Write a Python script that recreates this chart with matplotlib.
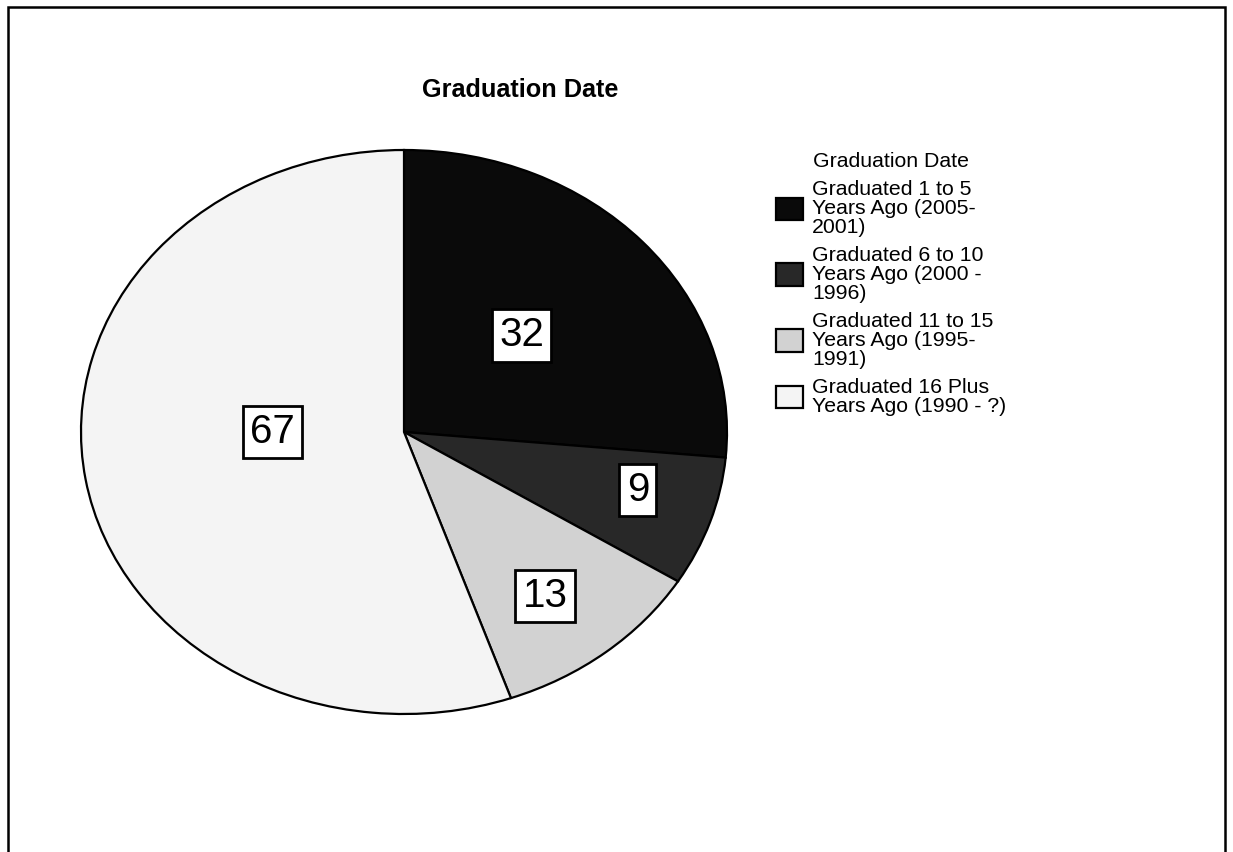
import numpy as np
import matplotlib.pyplot as plt
from matplotlib.patches import Rectangle

plt.rcParams["font.family"] = ["Liberation Sans", "DejaVu Sans"]

categories = [
    "Graduated 1 to 5\nYears Ago (2005-\n2001)",
    "Graduated 6 to 10\nYears Ago (2000 -\n1996)",
    "Graduated 11 to 15\nYears Ago (1995-\n1991)",
    "Graduated 16 Plus\nYears Ago (1990 - ?)",
]
counts = [32, 9, 13, 67]

colors = ["#0a0a0a", "#282828", "#d2d2d2", "#f4f4f4"]
# value boxes: distance from centre (fraction of radius) and angle in degrees
label_r = [0.5, 0.753, 0.727, 0.406]
label_angle = [43.2, -15.9, -53.1, 180.0]

figure = plt.figure(figsize=(12.33, 8.52), dpi=100)
W, H = 1233, 852

# the pie is an ellipse in the original: centre (404, 432), radii 323 x 282 px
cx, cy, rx, ry = 404, 432, 323, 282
axes = figure.add_axes([(cx - rx) / W, (H - cy - ry) / H, 2 * rx / W, 2 * ry / H])
wedges, _ = axes.pie(
    counts,
    colors=colors,
    startangle=90,
    counterclock=False,
    wedgeprops={"edgecolor": "black", "linewidth": 1.6},
)
axes.set_aspect("auto")
axes.set_xlim(-1, 1)
axes.set_ylim(-1, 1)
axes.axis("off")

for count, r, angle in zip(counts, label_r, label_angle):
    theta = np.deg2rad(angle)
    axes.text(
        r * np.cos(theta),
        r * np.sin(theta),
        str(count),
        ha="center",
        va="center",
        fontsize=29,
        bbox={"boxstyle": "square,pad=0.18", "facecolor": "white",
              "edgecolor": "black", "linewidth": 2},
    )

figure.text(422 / W, 1 - 90 / H, "Graduation Date", ha="left", va="center",
            fontsize=18.2, fontweight="bold")

legend = figure.legend(
    wedges,
    categories,
    title="Graduation Date",
    loc="upper left",
    bbox_to_anchor=(776 / W, 1 - 152 / H),
    frameon=False,
    fontsize=15.3,
    title_fontsize=15.3,
    handlelength=1.27,
    handleheight=1.25,
    handletextpad=0.42,
    labelspacing=0.42,
    borderpad=0,
    borderaxespad=0,
)
for text in legend.get_texts():
    text.set_linespacing(1.0)

# page frame (no bottom edge)
figure.add_artist(Rectangle((8 / W, -0.05), (1225 - 8) / W, 1.05 - 7 / H,
                            transform=figure.transFigure, fill=False,
                            edgecolor="black", linewidth=1.8))

figure.savefig("out.png", dpi=100, facecolor="white")
